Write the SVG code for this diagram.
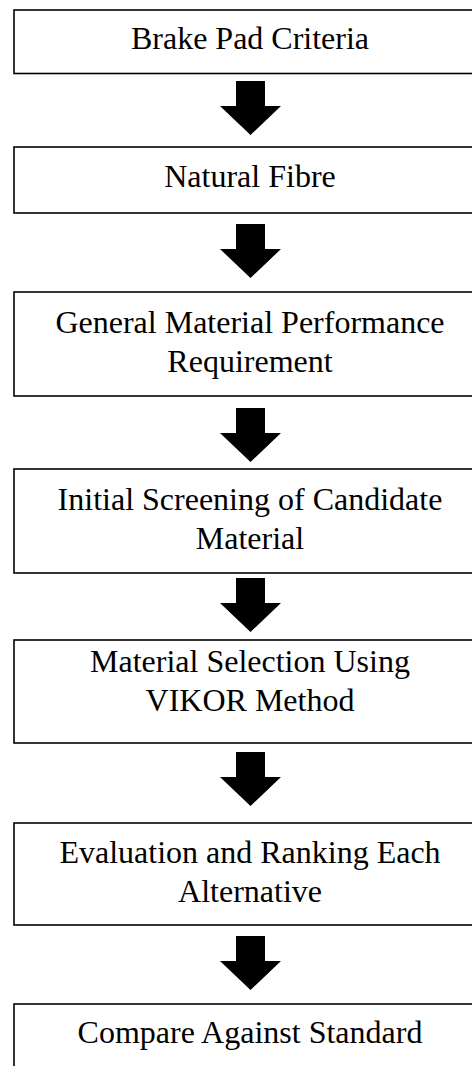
<svg xmlns="http://www.w3.org/2000/svg" width="472" height="1066" viewBox="0 0 472 1066">
  <defs>
    <style>
      .box { fill: #ffffff; stroke: #000000; stroke-width: 1.6; }
      .label { font-family: "Liberation Serif", "Times New Roman", serif; font-size: 32px; fill: #000000; text-anchor: middle; }
      .arrow { fill: #000000; stroke: none; }
    </style>
    <!-- block arrow pointing down, origin at top centre of the shaft -->
    <path id="downArrow" class="arrow" d="M -14.5 0 H 14.5 V 25 H 30.5 L 0 54 L -30.5 25 H -14.5 Z"/>
  </defs>
  <rect width="472" height="1066" fill="#ffffff"/>

  <g id="connectors">
    <use href="#downArrow" x="250.5" y="81"/>
    <use href="#downArrow" x="250.5" y="224"/>
    <use href="#downArrow" x="250.5" y="408"/>
    <use href="#downArrow" x="250.5" y="578"/>
    <use href="#downArrow" x="250.5" y="752"/>
    <use href="#downArrow" x="250.5" y="936"/>
  </g>

  <g id="brake-pad-criteria">
    <rect class="box" x="14" y="10" width="480" height="63.5"/>
    <text class="label" x="250" y="49">Brake Pad Criteria</text>
  </g>

  <g id="natural-fibre">
    <rect class="box" x="14" y="147" width="480" height="66"/>
    <text class="label" x="250" y="187">Natural Fibre</text>
  </g>

  <g id="general-requirement">
    <rect class="box" x="14" y="292" width="480" height="104"/>
    <text class="label" x="250" y="333">General Material Performance</text>
    <text class="label" x="250" y="372">Requirement</text>
  </g>

  <g id="initial-screening">
    <rect class="box" x="14" y="469" width="480" height="104"/>
    <text class="label" x="250" y="510">Initial Screening of Candidate</text>
    <text class="label" x="250" y="549">Material</text>
  </g>

  <g id="vikor-selection">
    <rect class="box" x="14" y="640" width="480" height="103"/>
    <text class="label" x="250" y="672">Material Selection Using</text>
    <text class="label" x="250" y="711">VIKOR Method</text>
  </g>

  <g id="evaluation-ranking">
    <rect class="box" x="14" y="823" width="480" height="102"/>
    <text class="label" x="250" y="863">Evaluation and Ranking Each</text>
    <text class="label" x="250" y="902">Alternative</text>
  </g>

  <g id="compare-standard">
    <rect class="box" x="14" y="1004" width="480" height="80"/>
    <text class="label" x="250" y="1043">Compare Against Standard</text>
  </g>
</svg>
